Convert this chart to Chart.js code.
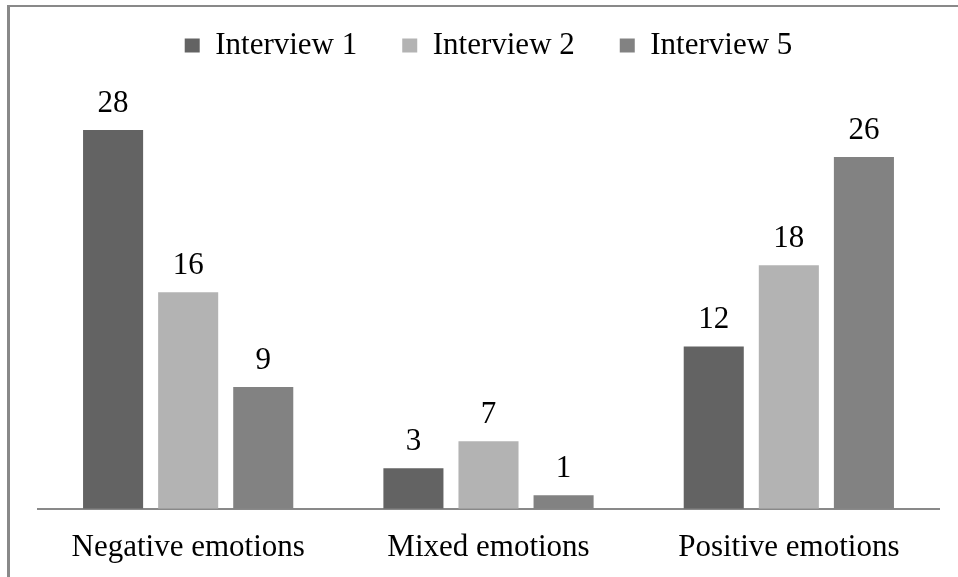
<!DOCTYPE html>
<html>
<head>
<meta charset="utf-8">
<script src="https://cdn.jsdelivr.net/npm/chart.js@4"></script>
<style>
  html, body { margin: 0; padding: 0; background: #fff; overflow: hidden; }
  #wrap { position: relative; width: 958px; height: 577px; }
  #frame {
    position: absolute; left: 7px; top: 5px; width: 1200px; height: 800px;
    border-left: 3px solid #898989; border-top: 2px solid #898989;
    pointer-events: none;
  }
</style>
</head>
<body>
<div id="wrap">
  <canvas id="myChart" width="958" height="577"></canvas>
  <div id="frame"></div>
</div>
<script>
const categories = ['Negative emotions', 'Mixed emotions', 'Positive emotions'];
const seriesNames = ['Interview 1', 'Interview 2', 'Interview 5'];

// bar heights as drawn in the picture
const interview1 = [28, 3, 12];
const interview2 = [16, 5, 18];   // middle bar is drawn ~5 high
const interview5 = [9, 1, 26];

// numbers printed above the bars
const labels1 = ['28', '3', '12'];
const labels2 = ['16', '7', '18'];
const labels5 = ['9', '1', '26'];

const colors = ['#636363', '#b3b3b3', '#828282'];
const serif = "'Liberation Serif', 'Times New Roman', serif";

const valueLabels = {
  id: 'valueLabels',
  afterDatasetsDraw(chart) {
    const ctx = chart.ctx;
    ctx.save();
    ctx.font = '31px ' + serif;
    ctx.fillStyle = '#000';
    ctx.textAlign = 'center';
    ctx.textBaseline = 'alphabetic';
    chart.data.datasets.forEach((ds, i) => {
      chart.getDatasetMeta(i).data.forEach((bar, j) => {
        ctx.fillText(ds.printed[j], bar.x, bar.y - 18);
      });
    });
    ctx.restore();
  }
};

const legendGap = {
  id: 'legendGap',
  beforeInit(chart) {
    const fit = chart.legend.fit;
    chart.legend.fit = function () {
      fit.call(this);
      this.height += 32;
    };
  }
};

const ctx = document.getElementById('myChart').getContext('2d');
new Chart(ctx, {
  type: 'bar',
  data: {
    labels: categories,
    datasets: [
      { label: seriesNames[0], data: interview1, printed: labels1, backgroundColor: colors[0] },
      { label: seriesNames[1], data: interview2, printed: labels2, backgroundColor: colors[1] },
      { label: seriesNames[2], data: interview5, printed: labels5, backgroundColor: colors[2] }
    ]
  },
  options: {
    responsive: false,
    animation: false,
    devicePixelRatio: 1,
    layout: { padding: { top: -15, left: 38, right: 19, bottom: -9 } },
    datasets: {
      bar: { categoryPercentage: 0.75, barPercentage: 0.8, borderWidth: 0 }
    },
    plugins: {
      tooltip: { enabled: false },
      legend: {
        position: 'top',
        labels: {
          boxWidth: 15,
          boxHeight: 14,
          padding: 45,
          color: '#000',
          font: { family: serif, size: 31 }
        }
      }
    },
    scales: {
      x: {
        grid: { display: false, drawTicks: false },
        border: { display: true, color: '#898989', width: 2 },
        ticks: {
          color: '#000',
          padding: 20,
          font: { family: serif, size: 31 }
        }
      },
      y: {
        display: false,
        min: 0,
        max: 30
      }
    }
  },
  plugins: [legendGap, valueLabels]
});
</script>
</body>
</html>
